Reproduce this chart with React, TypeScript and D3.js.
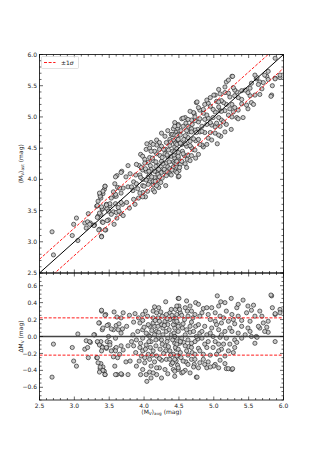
import React from 'react';
import { scaleLinear, range, line } from 'd3';

// [<M_V>_avg, ΔM_V]; top panel shows <M_V>_ast = avg - Δ
const residuals: [number, number][] = [
  [2.68, -0.48], [2.70, -0.09], [2.97, -0.13], [3.05, 0.03], [2.99, -0.29], [3.03, -0.35],
  [3.17, -0.05], [3.23, -0.07], [3.15, -0.15], [3.19, -0.13], [3.20, -0.25], [3.29, 0.02],
  [3.34, -0.07], [3.32, -0.25], [3.36, 0.16], [3.39, 0.30], [3.45, 0.26], [3.40, 0.08],
  [3.38, -0.06], [3.40, -0.12], [3.38, -0.32], [3.41, -0.36], [3.43, -0.41], [3.44, -0.45],
  [3.37, -0.38], [3.49, 0.14], [3.47, -0.06], [3.46, -0.14], [3.51, -0.07], [3.59, -0.02],
  [3.56, 0.08], [3.60, 0.13], [3.58, -0.15], [3.62, -0.25], [3.61, -0.45], [3.58, -0.35],
  [3.68, -0.45], [3.67, 0.22], [3.70, 0.28],
  [3.39, 0.31], [3.44, 0.25], [3.57, 0.29], [3.61, 0.23], [3.35, 0.16], [3.41, 0.10],
  [3.47, 0.13], [3.53, 0.09], [3.64, 0.15], [3.69, 0.09], [3.63, 0.08], [3.67, 0.04],
  [3.75, 0.12], [3.85, 0.17], [3.79, 0.25], [3.87, 0.27], [3.98, 0.19], [4.02, 0.30],
  [4.13, 0.30], [4.15, 0.35], [4.21, 0.34], [4.31, 0.41], [4.49, 0.45], [3.28, 0.02],
  [3.22, -0.06], [3.33, -0.06], [3.36, -0.10], [3.40, -0.13], [3.39, -0.17], [3.33, -0.25],
  [3.34, -0.31], [3.37, -0.36], [3.41, -0.40], [3.44, -0.45], [3.36, -0.42], [3.49, 0.0],
  [3.51, -0.10], [3.53, -0.17], [3.46, -0.13], [3.60, -0.13], [3.59, -0.17], [3.67, -0.11],
  [3.70, -0.16], [3.56, -0.24], [3.65, -0.21], [3.74, -0.30], [3.80, -0.29], [3.59, -0.45],
  [3.67, -0.44], [3.77, -0.45], [3.77, -0.11], [3.85, -0.11], [3.89, -0.04], [3.94, -0.13],
  [3.93, -0.29], [3.89, -0.35], [3.95, -0.45], [3.98, -0.39], [4.01, -0.31], [4.03, -0.45],
  [4.08, -0.42], [4.10, -0.49], [4.04, -0.53], [4.18, -0.45], [4.22, -0.37], [4.06, 0.02],
  [4.10, -0.06], [4.03, -0.10], [4.13, -0.17], [4.18, -0.23], [4.06, -0.21], [3.98, -0.17],
  [4.25, -0.04], [4.30, -0.11], [4.34, -0.02], [4.39, 0.02], [4.44, -0.08], [4.46, -0.15],
  [4.37, -0.17], [4.32, -0.27], [4.39, -0.33], [4.46, -0.29], [4.49, -0.39], [4.25, 0.14],
  [4.30, 0.18], [4.37, 0.28], [4.42, 0.22], [4.47, 0.26], [4.20, 0.22], [4.13, 0.22],
  [4.08, 0.12], [4.18, 0.06], [4.32, 0.06], [4.44, 0.10], [4.49, 0.15], [3.98, 0.08],
  [4.15, 0.12],
  [3.98, -0.02], [4.03, 0.04], [4.08, 0.0], [4.15, 0.02], [4.20, -0.02], [4.27, 0.02],
  [4.33, -0.06], [4.41, -0.04], [4.47, -0.02], [4.51, -0.08], [4.02, -0.15], [4.09, -0.13],
  [4.17, -0.11], [4.23, -0.15], [4.31, -0.17], [4.42, -0.21], [4.49, -0.23], [4.08, -0.27],
  [4.15, -0.30], [4.25, -0.28], [4.37, -0.27], [4.10, -0.35], [4.18, -0.37], [4.30, -0.39],
  [4.42, -0.39], [4.34, -0.44], [4.44, -0.47], [4.25, -0.49], [4.13, -0.43], [4.06, 0.14],
  [4.13, 0.16], [4.20, 0.12], [4.27, 0.10], [4.34, 0.14], [4.42, 0.14], [4.37, 0.20],
  [4.44, 0.18], [4.26, 0.24], [4.32, 0.26], [4.39, 0.32], [4.45, 0.32], [4.50, 0.36],
  [4.18, 0.28], [4.22, 0.18], [3.98, 0.26], [3.94, 0.16], [3.91, 0.06], [3.84, 0.02],
  [3.82, -0.06], [3.88, -0.19], [3.96, -0.23],
  // denser core, 3.9 to 4.6
  [3.92, 0.22], [3.95, -0.08], [4.00, 0.11], [4.01, -0.25], [4.05, 0.24], [4.07, -0.06],
  [4.11, 0.07], [4.12, -0.22], [4.16, 0.19], [4.17, -0.04], [4.21, 0.05], [4.22, -0.26],
  [4.24, 0.29], [4.26, -0.09], [4.28, -0.20], [4.29, 0.13], [4.33, 0.21], [4.35, -0.12],
  [4.36, 0.08], [4.38, -0.22], [4.40, 0.25], [4.41, -0.31], [4.43, 0.04], [4.45, -0.13],
  [4.46, 0.21], [4.48, -0.34], [4.52, 0.28], [4.53, -0.25], [4.55, 0.10], [4.57, -0.07],
  [4.58, 0.20], [4.60, -0.30], [4.62, 0.30], [4.64, -0.12], [4.66, 0.05], [4.69, -0.19],
  [4.70, 0.22], [4.72, -0.33], [4.74, 0.12], [4.77, -0.03],
  [4.50, 0.45], [4.74, 0.40], [5.05, 0.48], [5.16, 0.40], [5.25, 0.45], [5.42, 0.43],
  [5.83, 0.48], [5.84, 0.34], [5.95, 0.32], [5.88, 0.26], [5.95, 0.28], [5.82, 0.49],
  [5.88, 0.27], [5.78, 0.05], [5.88, -0.06], [5.66, 0.10], [5.61, 0.0],
  [4.51, 0.32], [4.59, 0.34], [4.66, 0.36], [4.85, 0.33], [4.90, 0.34], [4.83, 0.28],
  [4.92, 0.26], [5.02, 0.28], [5.09, 0.24], [5.18, 0.30], [5.33, 0.34], [5.35, 0.38],
  [5.49, 0.36], [5.54, 0.31], [5.57, 0.37], [5.47, 0.28], [5.35, 0.24], [5.26, 0.26],
  [5.40, 0.19], [5.52, 0.18], [5.59, 0.24], [5.71, 0.16], [5.76, 0.11], [5.64, 0.12],
  [5.49, 0.10], [5.40, 0.12], [5.30, 0.15], [5.21, 0.18], [5.11, 0.16], [5.02, 0.18],
  [4.95, 0.20], [4.73, 0.26], [4.63, 0.24], [4.54, 0.25], [4.47, 0.18], [4.56, 0.15],
  [4.68, 0.17], [4.78, 0.14], [4.87, 0.12], [4.97, 0.10], [5.07, 0.08], [5.16, 0.06],
  [5.26, 0.06], [5.35, 0.04], [5.45, 0.02], [5.54, 0.0], [5.62, -0.01], [5.40, -0.02],
  [5.30, -0.04], [5.18, -0.02], [5.09, -0.01], [4.99, 0.0], [4.90, 0.02], [4.80, 0.04],
  [4.71, 0.06], [4.61, 0.08], [4.49, 0.06], [4.44, 0.0], [4.54, -0.02], [4.63, -0.04],
  [4.73, -0.06], [4.83, -0.02], [4.92, -0.06], [5.02, -0.06], [5.14, -0.09], [5.23, -0.09],
  [5.33, -0.07], [4.47, -0.09], [4.59, -0.11], [4.68, -0.13], [4.78, -0.14], [4.90, -0.13],
  [4.99, -0.13], [5.11, -0.15], [5.21, -0.17], [5.30, -0.13], [4.52, -0.19], [4.63, -0.22],
  [4.73, -0.21], [4.85, -0.21], [4.95, -0.22], [5.04, -0.21], [5.16, -0.23], [5.28, -0.19],
  [4.44, -0.27], [4.56, -0.29], [4.68, -0.27], [4.80, -0.31], [4.92, -0.30], [5.02, -0.33],
  [5.16, -0.32], [4.49, -0.37], [4.59, -0.40], [4.71, -0.36], [4.87, -0.33], [4.90, -0.37],
  [5.00, -0.35], [5.18, -0.38], [5.21, -0.38], [5.26, -0.39], [4.75, -0.48], [4.54, -0.43],
  [4.76, -0.48], [5.27, -0.38], [4.95, -0.36], [4.56, -0.42], [5.10, 0.41],
  [4.47, 0.36], [4.61, 0.42], [4.68, 0.30], [4.78, 0.38], [4.80, 0.24], [4.97, 0.34],
  [5.07, 0.36], [5.14, 0.22], [5.28, 0.20], [4.49, 0.12], [4.66, 0.12], [4.83, 0.06],
  [5.04, 0.14], [5.23, 0.10], [4.59, 0.02], [4.75, 0.0], [4.95, 0.04], [5.11, 0.02],
  [4.52, -0.06], [4.68, -0.08], [4.87, -0.09], [5.07, -0.09], [4.49, -0.15], [4.61, -0.17],
  [4.80, -0.17], [5.07, -0.17], [4.47, -0.23], [4.73, -0.27], [4.85, -0.27], [5.09, -0.28],
  [4.63, -0.33], [4.78, -0.37], [5.07, -0.37], [4.66, -0.43], [4.44, -0.41],
  [5.66, 0.30], [5.69, 0.24], [5.78, 0.18], [5.73, 0.06], [5.52, 0.06], [5.59, -0.08],
];

const sigma = 0.22;
const xTicks = [2.5, 3.0, 3.5, 4.0, 4.5, 5.0, 5.5, 6.0];
const yTopTicks = [2.5, 3.0, 3.5, 4.0, 4.5, 5.0, 5.5, 6.0];
const yBotTicks = [-0.6, -0.4, -0.2, 0.0, 0.2, 0.4, 0.6];

const L = 39.5, R = 283.5;
const T1 = 54.5, B1 = 273;
const T2 = 273, B2 = 400;

const x = scaleLinear().domain([2.5, 6]).range([L, R]);
const yTop = scaleLinear().domain([2.5, 6]).range([B1, T1]);
const yBot = scaleLinear().domain([-0.75, 0.75]).range([B2, T2]);

const font = "'DejaVu Sans', sans-serif";
const red = '#ff0000';
const MAJ = 3.5, MIN = 2;

const xMinor = range(2.5, 6.0001, 0.1);
const yTopMinor = range(2.5, 6.0001, 0.1);
const yBotMinor = range(-0.75, 0.7501, 0.05);

function Frame({ top, bottom, yScale, yMaj, yMin }: any) {
  const ticks: JSX.Element[] = [];
  xMinor.forEach((v, i) => {
    const len = xTicks.some((t) => Math.abs(t - v) < 1e-6) ? MAJ : MIN;
    ticks.push(<line key={'xb' + i} x1={x(v)} x2={x(v)} y1={bottom} y2={bottom - len} />);
    ticks.push(<line key={'xt' + i} x1={x(v)} x2={x(v)} y1={top} y2={top + len} />);
  });
  yMin.forEach((v: number, i: number) => {
    const len = yMaj.some((t: number) => Math.abs(t - v) < 1e-6) ? MAJ : MIN;
    const yy = yScale(v);
    ticks.push(<line key={'yl' + i} x1={L} x2={L + len} y1={yy} y2={yy} />);
    ticks.push(<line key={'yr' + i} x1={R} x2={R - len} y1={yy} y2={yy} />);
  });
  return (
    <g stroke="#000" strokeWidth={0.6}>
      {ticks}
      <rect x={L} y={top} width={R - L} height={bottom - top} fill="none" strokeWidth={0.8} />
    </g>
  );
}

const Points = ({ yOf }: { yOf: (d: [number, number]) => number }) => (
  <g>
    {residuals.map((d, i) => (
      <circle key={i} cx={x(d[0])} cy={yOf(d)} r={2.1} fill="#c8c8c8" stroke="#111" strokeWidth={0.6} />
    ))}
  </g>
);

export default function App() {
  const diag = line<[number, number]>().x((d) => x(d[0])).y((d) => yTop(d[1]));
  const ends: [number, number][] = [[2.5, 2.5], [6, 6]];
  const upper: [number, number][] = [[2.5, 2.5 + sigma], [6, 6 + sigma]];
  const lower: [number, number][] = [[2.5, 2.5 - sigma], [6, 6 - sigma]];

  return (
    <svg width={315} height={450} style={{ position: 'absolute', left: 0, top: 0 }}>
      <defs>
        <clipPath id="c1"><rect x={L} y={T1} width={R - L} height={B1 - T1} /></clipPath>
        <clipPath id="c2"><rect x={L} y={T2} width={R - L} height={B2 - T2} /></clipPath>
      </defs>
      <rect width={315} height={450} fill="#fff" />

      {/* top panel */}
      <g clipPath="url(#c1)">
        <Points yOf={(d) => yTop(d[0] - d[1])} />
        <path d={diag(ends) || ''} stroke="#000" strokeWidth={1} fill="none" />
        <path d={diag(upper) || ''} stroke={red} strokeWidth={0.9} strokeDasharray="3,1.6" fill="none" />
        <path d={diag(lower) || ''} stroke={red} strokeWidth={0.9} strokeDasharray="3,1.6" fill="none" />
      </g>
      <Frame top={T1} bottom={B1} yScale={yTop} yMaj={yTopTicks} yMin={yTopMinor} />
      {yTopTicks.map((t) => (
        <text key={'ty' + t} x={L - 2.5} y={yTop(t)} dy="0.35em" textAnchor="end" fontSize={6} fontFamily={font} fill="#222">
          {t.toFixed(1)}
        </text>
      ))}
      <text transform={`translate(23,${(T1 + B1) / 2}) rotate(-90)`} textAnchor="middle" fontSize={6} fontFamily={font} fill="#222">
        ⟨M<tspan fontSize={4.2} dy="1.3">V</tspan><tspan dy="-1.3">⟩</tspan><tspan fontSize={4.2} dy="1.3">ast</tspan><tspan dy="-1.3"> (mag)</tspan>
      </text>

      {/* legend */}
      <rect x={41.5} y={56.5} width={37} height={12} rx={1} fill="#fff" fillOpacity={0.8} stroke="#ccc" strokeWidth={0.6} />
      <line x1={44} x2={55.5} y1={62.5} y2={62.5} stroke={red} strokeWidth={0.9} strokeDasharray="3,1.6" />
      <text x={61} y={62.5} dy="0.35em" fontSize={6} fontFamily={font} fill="#222">±1<tspan fontStyle="italic">σ</tspan></text>

      {/* bottom panel */}
      <g clipPath="url(#c2)">
        <Points yOf={(d) => yBot(d[1])} />
        <line x1={L} x2={R} y1={yBot(0)} y2={yBot(0)} stroke="#444" strokeWidth={1.3} />
        <line x1={L} x2={R} y1={yBot(sigma)} y2={yBot(sigma)} stroke={red} strokeWidth={0.9} strokeDasharray="3,1.6" />
        <line x1={L} x2={R} y1={yBot(-sigma)} y2={yBot(-sigma)} stroke={red} strokeWidth={0.9} strokeDasharray="3,1.6" />
      </g>
      <Frame top={T2} bottom={B2} yScale={yBot} yMaj={yBotTicks} yMin={yBotMinor} />
      {yBotTicks.map((t) => (
        <text key={'by' + t} x={L - 2.5} y={yBot(t)} dy="0.35em" textAnchor="end" fontSize={6} fontFamily={font} fill="#222">
          {t < 0 ? '\u2212' + Math.abs(t).toFixed(1) : t.toFixed(1)}
        </text>
      ))}
      {xTicks.map((t) => (
        <text key={'bx' + t} x={x(t)} y={B2 + 7.5} textAnchor="middle" fontSize={6} fontFamily={font} fill="#222">
          {t.toFixed(1)}
        </text>
      ))}
      <text transform={`translate(23,${(T2 + B2) / 2}) rotate(-90)`} textAnchor="middle" fontSize={6} fontFamily={font} fill="#222">
        ΔM<tspan fontSize={4.2} dy="1.3">V</tspan><tspan dy="-1.3"> (mag)</tspan>
      </text>
      <text x={(L + R) / 2} y={B2 + 14} textAnchor="middle" fontSize={6} fontFamily={font} fill="#222">
        ⟨M<tspan fontSize={4.2} dy="1.3">V</tspan><tspan dy="-1.3">⟩</tspan><tspan fontSize={4.2} dy="1.3">avg</tspan><tspan dy="-1.3"> (mag)</tspan>
      </text>
    </svg>
  );
}
